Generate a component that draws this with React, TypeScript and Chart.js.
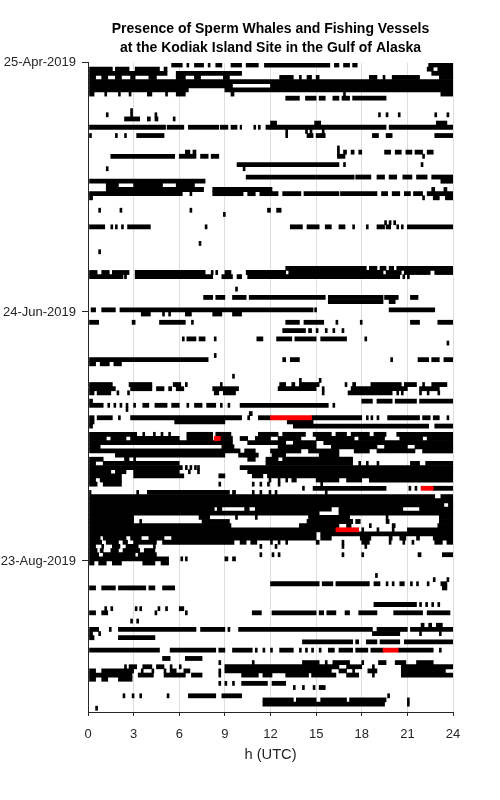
import React, { useEffect, useRef } from 'react';
import { Chart, registerables } from 'chart.js';

Chart.register(...registerables);

const titleLines = [
  'Presence of Sperm Whales and Fishing Vessels',
  'at the Kodiak Island Site in the Gulf of Alaska',
];
const xTitle = 'h (UTC)';
const hourMin = 0;
const hourMax = 24;
const hourStep = 3;
const dateTickDays = [0, 60, 120];
const dateTickLabels = ['25-Apr-2019', '24-Jun-2019', '23-Aug-2019'];
const dayRange = 156.4;

// Sperm whale presence per day (hours UTC). "a-b" = interval, "a" = single short bin.
const presenceAprMay: string[] = [
  '5.5-6.2 6.5 7.0-7.6 7.9 8.4-8.8 9.4-10.1 10.4-11.2 11.6-15.9 16.2-16.5 16.8-17.2 17.4-17.7 22.4-24',
  '0.1-1.6 1.8-2.7 3.1-4.7 5.0-5.2 22.3-22.7 23.0-24',
  '0.1-5.2 5.8-10.1 22.6-24',
  '0.1-0.5 0.9-1.3 1.8-2.2 2.8-3.1 4.0-4.5 5.8-6.4 7.0-7.4 8.9-9.3 12.6-13.5 13.9 14.4-14.7 15.0-15.2 18.5-19.0 19.4 20.0-21.8 23.1-24',
  '0.1-24',
  '0.1-9.5 12.0-24',
  '0.1-6.6 9.0-24',
  '0.1-0.4 1.1 2.0 2.7 3.9-4.2 5.1 5.8-6.4 9.4-9.6 16.8 23.2-24',
  '13.0-13.9 14.3-15.0 15.2-15.6 16.1-16.5 16.7-17.2 17.4-19.6',
  '',
  '',
  '2.8',
  '1.2 2.8 4.4 19.1 19.6 20.4 22.8 23.6',
  '2.4-3.4 3.9-4.1 4.4-4.6 5.6',
  '12.0-12.4 14.9-15.3 22.9-23.6',
  '0.1-5.1 5.2-6.3 6.6-8.6 8.7-9.2 9.4-9.8 10.0-10.1 10.9 11.2 11.7-19.6 19.8-24',
  '13.0 14.3 14.6 15.4',
  '0.1 1.8 2.4 3.2-5.0 13.0 14.4-14.8 15.0-15.6 18.7-19.1 19.6-20.0 22.8-24',
  '',
  '',
  '16.4',
  '6.4-6.7 6.9-7.1 16.4 16.8-17.0 17.3-17.5 17.8-18.0 19.5-19.9 20.2-20.6 20.9-21.3 21.5-22.0 22.3-22.7',
  '1.5-5.7 6.0-7.1 7.4-7.9 8.1-8.6 16.4-16.9 22.0',
  '',
  '9.8-16.5 16.8 21.9',
  '1.2 10.2',
  '',
  '10.4-17.5 17.6-18.6 19.0-19.5 19.8-20.3 20.7-21.3 21.6-22.3 22.6-24',
  '0.1-7.7 23.2-24',
  '1.2-2.0 3.0-4.9 5.8-7.0',
];

const presenceMayJun: string[] = [
  '1.2-7.6 8.2-12.1 22.6-22.8 23.4-23.6',
  '0.1-6.2 6.7 8.2-10.2 10.5-11.0 11.3-12.5 12.8-14.0 14.2-16.5 16.6-19.0 19.3-19.7 20.0-20.5 20.8-21.2 21.4-22.0 22.3-24',
  '0.1-0.3 22.0 22.7-23.1 23.5-24',
  '',
  '',
  '0.7 2.1 6.7 11.8-12.0 12.4-12.7',
  '8.9',
  '',
  '19.5 19.8 20.1',
  '0.1-1.1 1.5 1.8 2.2 2.6-4.1 7.7 13.3-14.1 14.4-15.2 15.6-16.0 16.5-16.9 17.4 18.3 19.0-19.5 19.6-19.9 20.3 20.6 21.0-24',
  '',
  '',
  '',
  '7.3',
  '',
  '0.7',
  '',
  '',
  '',
  '13.0-18.3 18.5-19.0 19.2-19.6 19.8-20.1 20.3-24',
  '0.1-0.6 0.9-1.4 1.6-2.7 3.1-7.7 8.1 8.4 9.0-9.4 10.4-13.0 13.2-19.4 19.6-20.6 20.8-22.5 22.8-24',
  '0.1-2.3 2.4 3.1-8.2 8.8-9.5 9.8-10.1 10.5-20.5 20.7 21.0',
  '',
  '',
  '9.7',
  '',
  '7.6-8.2 8.4-9.0 9.5-10.4 10.6-15.6 15.8-19.4 19.5-20.4 21.2-21.7',
  '15.8-19.4 19.8-20.2',
  '',
  '0.2-0.5 0.9-1.8 2.1-14.8 14.9 19.8-22.8',
];

const presenceJunJul: string[] = [
  '3.5-4.1 4.9 5.3 6.4-6.8 8.2-8.8 9.5-10.1',
  '',
  '0.1-0.7 2.9-3.1 4.7-6.4 6.8 13.0-13.9 14.2-15.5 16.3 17.9 21.2-21.8 23.0-24',
  '',
  '12.8-14.3 14.5-14.7 15.0 15.6 16.1 16.7',
  '',
  '6.2 6.5-7.1 7.3-7.7 8.3 11.1-11.5 12.4-13.4 13.6-15.0 15.3-17.0 18.2',
  '23.6',
  '',
  '',
  '8.3',
  '0.1-7.9 12.8-13.0 13.3-13.9 19.9 21.7-22.4 22.6-23.1 23.4-24',
  '0.1-0.5 0.8-1.4 1.7-2.2',
  '',
  '',
  '9.5',
  '13.9 15.2',
  '0.1-1.6 2.7-4.2 5.6-6.1 6.4 8.7 12.6-13.0 13.4-13.6 13.9-15.2 16.9 17.4-17.6 18.6-20.6 20.8-21.6 22.0 22.6-23.6',
  '0.1-1.8 2.8-4.2 4.5-5.0 5.3-5.5 5.8-6.3 8.2-9.9 12.5-15.0 15.4 17.3-21.0 21.8-23.1',
  '0.1-0.4 0.6-1.5 1.9 2.6 8.3-8.6 8.9-9.7 15.4 17.1-20.0 20.3 20.6 21.8 22.3 23.0',
  '',
  '0.1-0.3 18.0-18.7 19.0-20.0 20.2-21.6 21.8-24',
  '0.1-1.0 1.3 1.7 2.1 2.5 3.0 3.6-4.0 4.4-5.2 5.5-6.0 6.5 7.0-7.5 7.8-8.4 8.7 9.2 10.0-15.8 16.1',
  '2.5',
  '10.6-10.8',
  '0.1-0.4 0.6-1.6 2.0 2.8-10.1 10.5 11.2-12.0 14.7-18.0 18.3 18.6 19.0 19.7-21.8 22.0-22.5 22.7-23.1 23.6',
  '0.1-0.4 5.7-9.0 13.1-14.8',
  '0.1-0.3 13.5-22.4 22.8-24',
  '',
  '0.1-3.2 3.6 4.3 4.8 5.3 6.5-8.2 8.4-9.4 11.2-12.5 12.8-14.3 14.8-16.0 16.3-17.0 17.3-18.5 18.8-19.6 20.3-24',
];

const presenceJulAug: string[] = [
  '0.1-1.2 1.5-2.5 2.8-6.0 6.5-8.2 8.7-9.5 10.0-10.5 11.0-12.0 12.5-14.0 15.0-17.5 17.8-19.5 20.5-22.0 22.3-24',
  '0.1-9.5 10.5-13.0 13.5-15.0 15.5-24',
  '0.1-0.8 8.8-9.6 12.5-15.0 16.0-19.0 19.5-21.0 21.5-24',
  '0.1-10.0 10.3-11.0 12.0-14.0 14.5-16.5 17.5-18.5 19.0-21.5 22.0-24',
  '1.8-9.0 9.9-11.2 12.1-13.0 15.2-16.5',
  '0.1-1.0 2.4-2.7 3.0 10.5-11.0 11.7-12.5 12.8-17.4',
  '0.1-0.5 1.0-6.0 11.7-17.4 17.8 18.3 19.0 21.2-21.8 22.2-24',
  '0.1-6.2 6.4 6.7 7.0 7.2 10.0-24',
  '0.1-1.5 1.8-2.5 3.0-6.0 6.6 7.2 10.5-24',
  '0.1-2.2 3.0-6.3 8.6-9.0 10.8-11.5 11.8-24',
  '0.1-0.5 0.8-2.2 11.9 12.5 13.0 13.4-13.7 15.0-16.5 17.0-18.0 18.5-24',
  '0.1-0.6 1.0-2.2 8.6 10.8 11.3 11.8 12.5 15.3',
  '14.1 14.8-19.6 21.1 21.5 22.7-24',
  '0.1-0.2 3.2 3.9-9.3 9.5-9.7 10.8 11.3 11.9 12.3 15.6',
  '0.1-22.8 23.2-24',
  '0.1-24',
  '0.1-23.4 23.7-24',
  '0.1-8.3 8.5-8.8 10.3-10.6 11.0-16.0 16.5-20.7 21.8-24',
  '0.1-15.2 16.5-24',
  '0.1-3.0 7.3-8.0 9.7 11.0 14.5-17.2 19.6 23.1-24',
  '0.1-3.0 3.4 7.5-9.3 14.4-17.4 17.6-17.9 19.6-19.8 23.1-24',
  '0.1-9.4 13.9-16.5 17.0-17.3 18.5 20.0-20.2 23.0-24',
  '0.1-16.3 18.0 19.0 20.0 21.0-24',
  '0.1-15.0 15.3-24',
  '0.1-0.8 1.0-2.5 2.8-3.5 4.0-5.0 5.5-15.0 15.3-16.0 17.9-18.6 19.8-20.0 20.5-20.9 21.6-21.8 22.7-24',
  '0.1-0.9 1.2-2.0 2.3-2.6 3.0-4.5 4.9-9.6 10.0-10.4 10.7-11.1 12.0 12.5 13.0 15.0-15.2 16.7 18.0-18.5 19.8 20.7 21.3 22.8-23.3 23.6-24',
  '0.1-0.5 0.9 1.6-2.1 2.5-3.3 4.3 11.3 12.3 16.7 18.2',
  '0.1-0.6 0.8-1.0 1.5-2.0 2.3-3.4 3.7-4.4',
  '0.1-0.7 1.0-3.1 3.3-4.5 11.3 12.1 12.5 16.7 18.0 21.7-21.9 23.3-24',
  '0.1-5.3 6.1 6.4 9.0-9.2 9.5-9.7',
];

const presenceAugSep: string[] = [
  '0.1-0.4 0.7-1.2 1.6-2.2 3.6-4.4 4.8-5.3',
  '',
  '',
  '18.9',
  '22.7 23.6',
  '12.0-15.2 15.4-16.1 16.3-18.5 18.8-19.2 19.6 20.0 20.5-20.8 21.2 21.6 22.3 23.2-23.6',
  '0.1-0.5 0.9-1.8 2.0-3.8 4.0-4.4 4.9-5.7 23.3-23.6',
  '',
  '',
  '',
  '18.8-21.6 21.8 22.2 22.6 23.0',
  '1.1 1.5 3.1 3.4 4.6 5.1 6.0-6.3',
  '0.1-0.5 0.9-1.3 4.4 6.4 10.8-11.4 12.1-15.0 15.2-15.5 15.7-16.3 16.9-17.2 17.8-19.0 20.1-22.0 22.3-23.8',
  '',
  '2.8 3.2',
  '21.9-22.1 22.4-22.6 22.9-23.3',
  '0.1-0.7 1.4 2.0-7.1 7.4-9.0 9.2 9.9-18.7 19.0-21.0 21.2-24',
  '0.1-0.3 0.7 18.7-20.5 21.8 23.1',
  '0.1-0.4 2.0-4.4',
  '14.1-17.4 17.6-17.8 18.3-19.0 19.2-20.5 20.8-24',
  '',
  '0.1-4.7 5.4-8.4 8.6-9.0 9.5-10.8 11.0 11.5 12.0 12.6-13.5 13.9 14.3 14.7 15.2 15.8-16.2 16.5-17.4 17.6-18.4 18.6-19.4 20.4-22.7 23.1',
  '',
  '4.9-5.4 6.4-7.5',
  '8.6 10.8 14.1-15.2 15.6 16.1-17.2 18.0 19.1-19.6 20.2-20.9 21.6-22.7',
  '2.4 2.7-3.2 3.6-4.2 4.5-5.0 5.4 6.0 9.0-16.5 17.0-18.0 18.7 20.6-24',
  '0.1-0.5 0.9-3.0 3.5 4.2 5.0 5.4-5.8 6.3-6.7 8.6 9.0-16.0 16.5-17.0 17.4 18.4-19.0 20.6-23.5',
  '0.1-2.9 3.3-4.3 5.0-6.4 6.8-7.5 8.6 10.1-11.2 11.5-12.1 13.0-14.5 14.7-16.3 17.0-17.8 18.7 20.6-24',
  '0.1-0.5 0.9-1.3 2.0-2.9',
  '8.6 9.0 9.5 10.1-11.8 12.1-13.0',
  '13.5 14.1 14.8 15.2-15.6',
  '',
  '2.3 2.9 3.4 5.2 6.6-8.4 8.8-10.1 19.7',
  '11.5-13.5 13.7-15.0 15.3-17.0 17.2-19.6 21.0',
  '11.5-19.5 21.0',
  '0.5',
  '',
];

// Whales and fishing vessels present together: [day index, start hour, end hour]
const vesselOverlapDays = [85, 90, 102, 112, 141];
const vesselOverlapStart = [12.0, 8.3, 21.9, 16.3, 19.4];
const vesselOverlapEnd = [14.7, 8.7, 22.7, 17.8, 20.4];

const SHORT_BIN = 0.13;

function buildBars(rows: string[]) {
  const out: { x: [number, number]; y: number }[] = [];
  rows.forEach((row, day) => {
    row
      .split(' ')
      .filter((t) => t.length > 0)
      .forEach((tok) => {
        let a: number;
        let b: number;
        if (tok.includes('-')) {
          const p = tok.split('-');
          a = parseFloat(p[0]);
          b = parseFloat(p[1]);
        } else {
          a = parseFloat(tok);
          b = Math.min(24, a + SHORT_BIN);
        }
        out.push({ x: [a, b], y: day + 0.5 });
      });
  });
  return out;
}

const FONT = "'Liberation Sans', Arial, Helvetica, sans-serif";
const AXIS_COLOR = '#262626';

export default function App() {
  const ref = useRef<HTMLCanvasElement | null>(null);

  useEffect(() => {
    document.body.style.margin = '0';
    const canvas = ref.current;
    if (!canvas) return;
    const allDays = [
      ...presenceAprMay,
      ...presenceMayJun,
      ...presenceJunJul,
      ...presenceJulAug,
      ...presenceAugSep,
    ];
    const whaleBars = buildBars(allDays);
    const overlapBars = vesselOverlapDays.map((d, i) => ({
      x: [vesselOverlapStart[i], vesselOverlapEnd[i]] as [number, number],
      y: d + 0.5,
    }));

    const chart = new Chart(canvas, {
      type: 'bar',
      data: {
        datasets: [
          {
            label: 'Sperm whales',
            data: whaleBars as any,
            backgroundColor: '#000000',
            borderWidth: 0,
            barThickness: 4.15,
            grouped: false,
            order: 1,
          } as any,
          {
            label: 'Sperm whales and fishing vessels',
            data: overlapBars as any,
            backgroundColor: '#ff0000',
            borderWidth: 0,
            barThickness: 4.15,
            grouped: false,
            order: 0,
          } as any,
        ],
      },
      options: {
        indexAxis: 'y',
        animation: false,
        responsive: false,
        maintainAspectRatio: false,
        events: [],
        layout: { padding: { left: 0, right: 47, top: 0, bottom: 0 } },
        plugins: {
          legend: { display: false },
          tooltip: { enabled: false },
          title: {
            display: true,
            text: titleLines,
            color: '#000000',
            fullSize: false,
            font: { family: FONT, size: 14, weight: 'bold', lineHeight: 1.39 },
            padding: { top: 19, bottom: 5 },
          },
        },
        scales: {
          x: {
            type: 'linear',
            position: 'bottom',
            min: hourMin,
            max: hourMax,
            offset: false,
            afterFit: (scale: any) => {
              scale.height = 88;
            },
            ticks: {
              stepSize: hourStep,
              color: AXIS_COLOR,
              font: { family: FONT, size: 13 },
              padding: 11,
              maxRotation: 0,
              autoSkip: false,
            },
            grid: {
              offset: false,
              color: '#dedede',
              lineWidth: 1,
              drawTicks: true,
              tickLength: 4,
              tickColor: AXIS_COLOR,
            },
            border: { display: true, color: AXIS_COLOR, width: 1 },
            title: {
              display: true,
              text: xTitle,
              color: AXIS_COLOR,
              font: { family: FONT, size: 14.7 },
              padding: { top: 0, bottom: 36 },
            },
          },
          y: {
            type: 'linear',
            reverse: true,
            min: 0,
            max: dayRange,
            offset: false,
            afterFit: (scale: any) => {
              scale.width = 88;
            },
            afterBuildTicks: (scale: any) => {
              scale.ticks = dateTickDays.map((value) => ({ value }));
            },
            ticks: {
              color: AXIS_COLOR,
              font: { family: FONT, size: 13 },
              padding: 6,
              autoSkip: false,
              callback: (_v: any, i: number) => dateTickLabels[i],
            },
            grid: {
              offset: false,
              drawOnChartArea: false,
              drawTicks: true,
              tickLength: 6,
              tickColor: AXIS_COLOR,
            },
            border: { display: true, color: AXIS_COLOR, width: 1 },
          },
        },
      } as any,
    });
    return () => chart.destroy();
  }, []);

  return (
    <div style={{ width: 500, height: 800 }}>
      <canvas ref={ref} width={500} height={800} style={{ display: 'block', width: 500, height: 800 }} />
    </div>
  );
}
